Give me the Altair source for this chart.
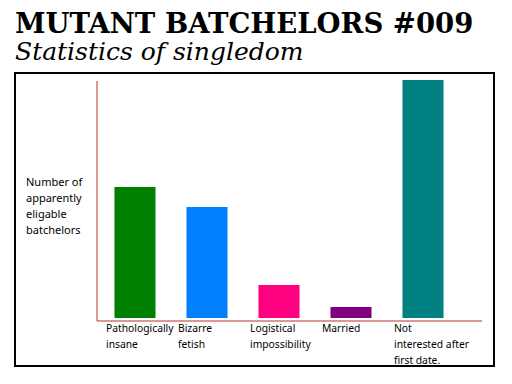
import altair as alt
import pandas as pd

categories = ["Pathologically|insane", "Bizarre|fetish", "Logistical|impossibility",
              "Married", "Not|interested after|first date."]
values = [131, 111, 33, 11, 238]
colors = ["#008000", "#0080FF", "#FF0080", "#800080", "#008080"]
y_label = "Number of|apparently|eligable|batchelors"
title_text = "MUTANT BATCHELORS #009"
subtitle_text = "Statistics of singledom"

df = pd.DataFrame({"cat": categories, "val": values, "color": colors})
one = pd.DataFrame({"a": [0]})

label_font = "Noto Sans"
axis_red = "#B83030"

xscale = alt.Scale(domain=categories, range=[84, 444], paddingInner=0.43, paddingOuter=0.215)
yscale = alt.Scale(domain=[0, 240], range=[245, 5])

bars = alt.Chart(df).mark_bar().encode(
    x=alt.X("cat:N", scale=xscale, axis=None, sort=categories),
    y=alt.Y("val:Q", scale=yscale, axis=None),
    color=alt.Color("color:N", scale=None, legend=None),
)

xlabels = alt.Chart(df).mark_text(
    align="left", baseline="top", dx=-29, lineBreak="|", lineHeight=16,
    font=label_font, fontSize=10.3, color="black",
).encode(
    x=alt.X("cat:N", scale=xscale, axis=None, sort=categories),
    y=alt.value(251),
    text="cat:N",
)

ylab = alt.Chart(one).mark_text(
    align="left", baseline="top", lineBreak="|", lineHeight=16,
    font=label_font, fontSize=11, color="black",
).encode(x=alt.value(11), y=alt.value(104), text=alt.value(y_label))

yaxis = alt.Chart(one).mark_rule(color=axis_red, strokeWidth=1).encode(
    x=alt.value(82), y=alt.value(8), y2=alt.value(248))
xaxis = alt.Chart(one).mark_rule(color=axis_red, strokeWidth=1).encode(
    x=alt.value(82), x2=alt.value(467), y=alt.value(248))

chart = alt.layer(bars, yaxis, xaxis, xlabels, ylab).properties(
    width=479, height=293,
    autosize=alt.AutoSizeParams(type="none"),
    padding={"left": 7, "top": 65, "right": 10, "bottom": 10},
    title=alt.TitleParams(
        text=title_text, subtitle=subtitle_text, anchor="start",
        font="DejaVu Serif", fontSize=27.5, fontWeight="bold", color="black",
        subtitleFont="DejaVu Serif", subtitleFontSize=25, subtitleFontStyle="italic",
        subtitleColor="black", subtitlePadding=2, offset=8,
    ),
).configure_view(stroke="black", strokeWidth=2)

chart.save("out.html", embed_options={"renderer": "svg", "actions": False})
